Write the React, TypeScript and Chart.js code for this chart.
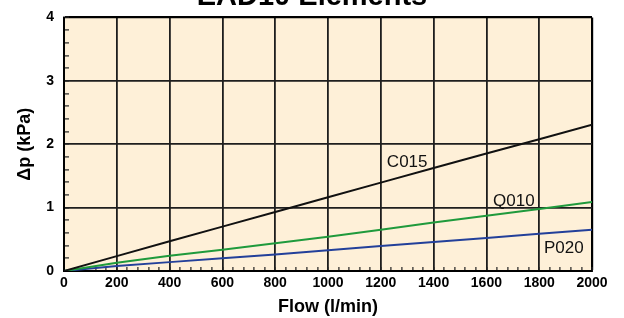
import React, { useEffect, useRef } from "react";
import { Chart, registerables } from "chart.js";

Chart.register(...registerables);

// ---- data ----
const FLOW = [0, 200, 400, 600, 800, 1000, 1200, 1400, 1600, 1800, 2000];
const C015 = [0, 0.235, 0.47, 0.7, 0.93, 1.165, 1.395, 1.625, 1.855, 2.08, 2.31];
const Q010 = [0, 0.13, 0.24, 0.335, 0.437, 0.54, 0.65, 0.765, 0.87, 0.98, 1.09];
const P020 = [0, 0.079, 0.14, 0.2, 0.262, 0.326, 0.395, 0.457, 0.52, 0.588, 0.65];
const SERIES_NAMES = ["C015", "Q010", "P020"];
const LABEL_FLOW = [1223, 1625, 1818];
const LABEL_DP = [1.64, 1.03, 0.28];
const TITLE = "EAD10 Elements";
const X_TITLE = "Flow (l/min)";
const Y_TITLE = "\u0394p (kPa)";
const X_MIN = 0, X_MAX = 2000, X_MAJOR = 200, X_MINOR = 40;
const Y_MIN = 0, Y_MAX = 4, Y_MAJOR = 1, Y_MINOR = 0.2;

const FONT = "'Liberation Sans', Arial, Helvetica, sans-serif";
const COLORS = ["#111111", "#1f9a3c", "#23409a"];
const BG = "#fef0d8";

const isMajor = (v: number, step: number) => Math.abs(v / step - Math.round(v / step)) < 1e-6;

export default function App() {
  const ref = useRef<HTMLCanvasElement | null>(null);

  useEffect(() => {
    if (!ref.current) return;
    const series = [C015, Q010, P020];

    const bgPlugin = {
      id: "areaBg",
      beforeDraw(chart: any) {
        const { ctx, chartArea: a } = chart;
        ctx.save();
        ctx.fillStyle = BG;
        ctx.fillRect(a.left, a.top, a.right - a.left, a.bottom - a.top);
        ctx.restore();
      },
    };

    const textPlugin = {
      id: "texts",
      afterDatasetsDraw(chart: any) {
        const { ctx, scales, width } = chart;
        ctx.save();
        ctx.font = `17px ${FONT}`;
        ctx.fillStyle = "#111";
        ctx.textAlign = "left";
        ctx.textBaseline = "alphabetic";
        SERIES_NAMES.forEach((n, i) => {
          ctx.fillText(n, scales.x.getPixelForValue(LABEL_FLOW[i]), scales.y.getPixelForValue(LABEL_DP[i]));
        });
        // chart title, mostly cropped above the canvas as in the reference
        ctx.font = `bold 29px ${FONT}`;
        ctx.fillStyle = "#000";
        ctx.textAlign = "center";
        ctx.fillText(TITLE, width / 2, 5);
        ctx.restore();
      },
    };

    const chart = new Chart(ref.current, {
      type: "line",
      data: {
        datasets: SERIES_NAMES.map((n, i) => ({
          label: n,
          data: FLOW.map((f, j) => ({ x: f, y: series[i][j] })),
          borderColor: COLORS[i],
          borderWidth: 2,
          pointRadius: 0,
          tension: 0,
          fill: false,
        })),
      },
      options: {
        responsive: false,
        animation: false,
        events: [],
        layout: { padding: { left: 0, right: 32, top: 17.5, bottom: 0 } },
        plugins: {
          legend: { display: false },
          tooltip: { enabled: false },
          title: { display: false },
        },
        scales: {
          x: {
            type: "linear",
            min: X_MIN,
            max: X_MAX,
            afterFit: (s: any) => { s.height = 47; s.paddingLeft = 0; s.paddingRight = 0; },
            border: { display: true, color: "#000", width: 2 },
            grid: {
              drawTicks: true,
              tickLength: -4,
              color: (c: any) => (isMajor(c.tick.value, X_MAJOR) ? (c.tick.value === X_MAX ? "#000" : "#1e1e1e") : "rgba(0,0,0,0)"),
              lineWidth: (c: any) => (c.tick.value === X_MAX ? 2.2 : 1.8),
              tickColor: "#222",
              tickWidth: 1.2,
            },
            ticks: {
              stepSize: X_MINOR,
              autoSkip: false,
              maxRotation: 0,
              padding: 8,
              color: "#000",
              font: { family: FONT, size: 14, weight: "bold" },
              callback: (v: any) => (isMajor(Number(v), X_MAJOR) ? String(v) : ""),
            },
            title: {
              display: true,
              text: X_TITLE,
              color: "#000",
              font: { family: FONT, size: 18, weight: "bold" },
              padding: { top: 0, bottom: 0 },
            },
          },
          y: {
            type: "linear",
            min: Y_MIN,
            max: Y_MAX,
            afterFit: (s: any) => { s.width = 64; s.paddingTop = 0; s.paddingBottom = 0; },
            border: { display: true, color: "#000", width: 2 },
            grid: {
              drawTicks: true,
              tickLength: -5,
              color: (c: any) => (isMajor(c.tick.value, Y_MAJOR) ? (c.tick.value === Y_MAX ? "#000" : "#1e1e1e") : "rgba(0,0,0,0)"),
              lineWidth: (c: any) => (c.tick.value === Y_MAX ? 2.2 : 1.8),
              tickColor: "#222",
              tickWidth: 1.2,
            },
            ticks: {
              stepSize: Y_MINOR,
              autoSkip: false,
              padding: 15,
              color: "#000",
              font: { family: FONT, size: 14, weight: "bold" },
              callback: (v: any) => (isMajor(Number(v), Y_MAJOR) ? String(Math.round(Number(v))) : ""),
            },
            title: {
              display: true,
              text: Y_TITLE,
              color: "#000",
              font: { family: FONT, size: 18, weight: "bold" },
              padding: { top: 14, bottom: 14 },
            },
          },
        },
      },
      plugins: [bgPlugin, textPlugin],
    } as any);

    return () => chart.destroy();
  }, []);

  return (
    <div style={{ position: "absolute", left: 0, top: 0, width: 624, height: 318, background: "#fff" }}>
      <canvas ref={ref} width={624} height={318} style={{ display: "block", width: 624, height: 318 }} />
    </div>
  );
}
